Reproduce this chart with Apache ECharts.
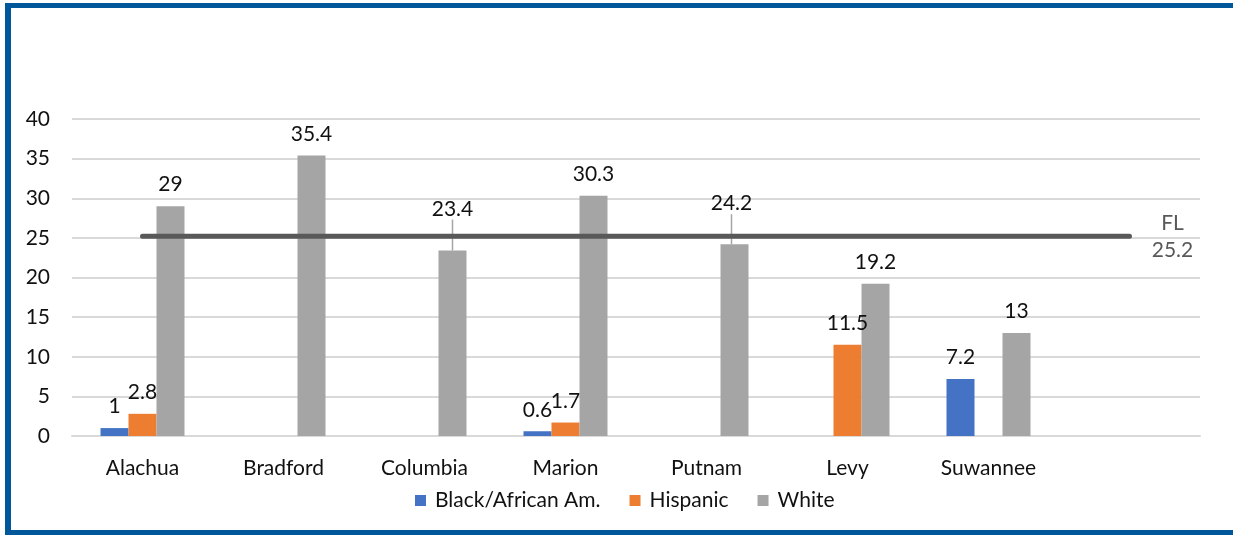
<!DOCTYPE html>
<html>
<head>
<meta charset="utf-8">
<script src="https://cdn.jsdelivr.net/npm/echarts@6/dist/echarts.min.js"></script>
<style>
  html, body { margin: 0; padding: 0; background: #fff; }
  #wrap { position: relative; width: 1233px; height: 535px; overflow: hidden; }
  #chart { position: absolute; left: 0; top: 0; width: 1233px; height: 535px; }
  #frame {
    position: absolute; left: 5px; top: 3px; width: 1240px; height: 522px;
    border-top: 5px solid #00579a; border-left: 6px solid #00579a; border-bottom: 5px solid #00579a;
    pointer-events: none;
  }
</style>
</head>
<body>
<div id="wrap">
  <div id="chart"></div>
  <div id="frame"></div>
</div>
<script>
// counties (last slot is empty, holds the FL label)
const counties = ['Alachua', 'Bradford', 'Columbia', 'Marion', 'Putnam', 'Levy', 'Suwannee', ''];
const black = [1, null, null, 0.6, null, null, 7.2, null];
const hispanic = [2.8, null, null, 1.7, null, 11.5, null, null];
const white = [29, 35.4, 23.4, 30.3, 24.2, 19.2, 13, null];
const flRate = [25.2, 25.2, 25.2, 25.2, 25.2, 25.2, 25.2, 25.2];
const yTicks = [0, 5, 10, 15, 20, 25, 30, 35, 40];
// white labels that sit above the FL line with a leader line
const movedLabels = [2, 4];

const font = 'Lato, "Open Sans", sans-serif';
const fs = 21;
const chart = echarts.init(document.getElementById('chart'));

const barLabel = {
  show: true,
  position: 'top',
  distance: 11,
  fontFamily: font,
  fontSize: fs,
  color: '#111'
};

const barSeries = (name, data, color, extra) => Object.assign({
  name: name,
  type: 'bar',
  data: data,
  barWidth: 28,
  barGap: '0%',
  itemStyle: { color: color },
  label: barLabel,
  labelLine: { show: false },
  z: 2
}, extra || {});

const whiteData = white.map((v, i) => movedLabels.includes(i)
  ? { value: v, labelLine: { show: true, lineStyle: { color: '#a5a5a5', width: 1.5 } } }
  : v);

chart.setOption({
  animation: false,
  grid: { left: 72, right: 33, top: 119, bottom: 99 },
  legend: {
    data: ['Black/African Am.', 'Hispanic', 'White'],
    left: 410,
    top: 485,
    itemWidth: 11,
    itemHeight: 11,
    itemGap: 29,
    icon: 'rect',
    textStyle: { fontFamily: font, fontSize: fs, color: '#111', padding: [0, 0, 0, 4] }
  },
  xAxis: {
    type: 'category',
    data: counties,
    axisLine: { lineStyle: { color: '#d9d9d9', width: 2 } },
    axisTick: { show: false },
    axisLabel: { fontFamily: font, fontSize: fs, color: '#111', margin: 22 }
  },
  yAxis: {
    type: 'value',
    min: yTicks[0],
    max: yTicks[yTicks.length - 1],
    interval: 5,
    axisLine: { show: false },
    axisTick: { show: false },
    axisLabel: { fontFamily: font, fontSize: fs, color: '#111', margin: 22 },
    splitLine: { lineStyle: { color: '#d9d9d9', width: 2 } }
  },
  series: [
    barSeries('Black/African Am.', black, '#4472c4'),
    barSeries('Hispanic', hispanic, '#ed7d31'),
    barSeries('White', whiteData, '#a5a5a5', {
      labelLayout: function (p) {
        if (p.dataIndex === 2) return { dy: -20 };
        if (p.dataIndex === 4) return { dy: -19, dx: -3 };
        return {};
      }
    }),
    {
      name: 'FL',
      type: 'line',
      data: flRate,
      symbol: 'none',
      lineStyle: { color: '#595959', width: 5, cap: 'round' },
      z: 3,
      endLabel: {
        show: true,
        formatter: 'FL\n25.2',
        distance: 43,
        align: 'center',
        lineHeight: 27,
        fontFamily: font,
        fontSize: fs,
        color: '#595959'
      }
    }
  ]
});
</script>
</body>
</html>
